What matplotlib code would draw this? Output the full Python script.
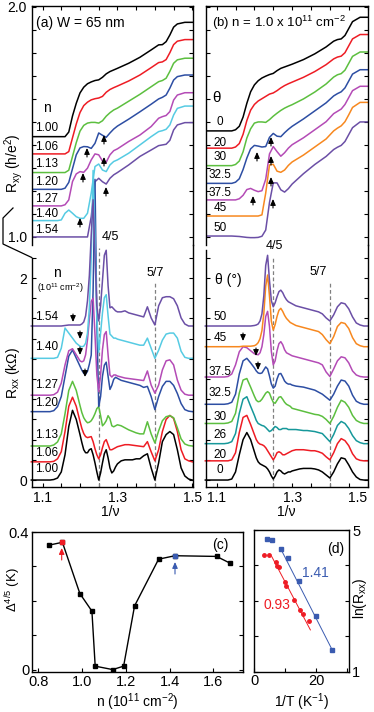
import numpy as np
import matplotlib
matplotlib.use('Agg')
import matplotlib.pyplot as plt

plt.rcParams['font.family'] = ['Liberation Sans', 'DejaVu Sans']
plt.rcParams['mathtext.fontset'] = 'custom'
plt.rcParams['mathtext.rm'] = 'Liberation Sans'
plt.rcParams['mathtext.it'] = 'Liberation Sans:italic'
plt.rcParams['xtick.direction'] = 'in'
plt.rcParams['ytick.direction'] = 'in'
plt.rcParams['axes.linewidth'] = 1.0

# ---------------- data ----------------
# Rxy sample grid (1/nu)
xy_grid = [1.07, 1.10, 1.12, 1.13, 1.14, 1.15, 1.16, 1.17, 1.18, 1.19, 1.20, 1.21, 1.22, 1.23,
           1.24, 1.25, 1.26, 1.27, 1.28, 1.29, 1.30, 1.33, 1.36, 1.39, 1.41, 1.42, 1.43, 1.44,
           1.45, 1.46, 1.48, 1.50]

# panel (a): density series, Rxy (h/e^2) before offset
n_labels = ['1.00', '1.06', '1.13', '1.20', '1.27', '1.40', '1.54']
rxy_a = [
    [1, 1, 1, 1, 1, 1, 1, 1.02, 1.09, 1.145, 1.19, 1.215, 1.23, 1.238, 1.244, 1.247, 1.258, 1.273,
     1.283, 1.29, 1.297, 1.319, 1.345, 1.377, 1.399, 1.40, 1.413, 1.442, 1.476, 1.49, 1.497, 1.497],
    [1, 1, 1, 1, 1, 1, 1, 1.01, 1.07, 1.13, 1.18, 1.21, 1.225, 1.235, 1.24, 1.243, 1.25, 1.268,
     1.28, 1.288, 1.295, 1.317, 1.343, 1.375, 1.397, 1.40, 1.41, 1.44, 1.475, 1.49, 1.497, 1.497],
    [1, 1, 1, 1, 1, 1, 1, 1.01, 1.07, 1.13, 1.18, 1.205, 1.215, 1.218, 1.218, 1.215, 1.225, 1.245,
     1.26, 1.272, 1.28, 1.31, 1.34, 1.373, 1.395, 1.40, 1.41, 1.44, 1.475, 1.49, 1.497, 1.497],
    [1, 1, 1, 1, 1, 1, 1.005, 1.03, 1.09, 1.15, 1.18, 1.186, 1.185, 1.178, 1.2, 1.245, 1.235, 1.226,
     1.245, 1.262, 1.275, 1.305, 1.337, 1.37, 1.393, 1.40, 1.41, 1.44, 1.475, 1.49, 1.497, 1.497],
    [1, 1, 1, 1, 1, 1, 1.005, 1.026, 1.106, 1.139, 1.149, 1.146, 1.164, 1.2, 1.226, 1.222, 1.195, 1.19,
     1.222, 1.24, 1.248, 1.28, 1.308, 1.345, 1.381, 1.388, 1.393, 1.41, 1.46, 1.482, 1.492, 1.492],
    [1, 1, 1, 1, 1, 1.003, 1.032, 1.046, 1.032, 1.017, 1.01, 1.01, 1.032, 1.12, 1.235, 1.246, 1.22, 1.213,
     1.242, 1.257, 1.264, 1.293, 1.329, 1.365, 1.387, 1.391, 1.397, 1.416, 1.459, 1.488, 1.498, 1.498],
    [1, 1, 1, 1, 1, 1, 1, 1, 1, 1, 1, 1, 1.0, 1.088, 1.24, 1.255, 1.24, 1.23,
     1.255, 1.27, 1.28, 1.313, 1.35, 1.378, 1.397, 1.40, 1.403, 1.42, 1.465, 1.487, 1.497, 1.497],
]
rxy_a_offset = [0.436, 0.361, 0.28, 0.207, 0.135, 0.071, 0.0]

# panel (b): tilt angle series
theta_labels = ['0', '20', '30', '32.5', '37.5', '45', '50']
rxy_b = [
    [1, 1, 1, 1, 1, 1.005, 1.02, 1.06, 1.12, 1.17, 1.2, 1.218, 1.23, 1.238, 1.245, 1.25, 1.262, 1.272,
     1.278, 1.284, 1.29, 1.31, 1.335, 1.365, 1.39, 1.397, 1.40, 1.415, 1.445, 1.475, 1.494, 1.494],
    [1, 1, 1, 1, 1, 1.005, 1.02, 1.06, 1.12, 1.165, 1.19, 1.205, 1.215, 1.225, 1.235, 1.24, 1.25, 1.262,
     1.272, 1.28, 1.287, 1.308, 1.333, 1.363, 1.388, 1.396, 1.40, 1.415, 1.445, 1.475, 1.494, 1.494],
    [1, 1, 1, 1, 1, 1.005, 1.02, 1.06, 1.12, 1.16, 1.185, 1.19, 1.19, 1.188, 1.2, 1.215, 1.228, 1.24,
     1.25, 1.258, 1.265, 1.29, 1.32, 1.355, 1.385, 1.395, 1.40, 1.415, 1.445, 1.475, 1.494, 1.494],
    [1, 1, 1, 1, 1, 1.005, 1.02, 1.06, 1.11, 1.15, 1.165, 1.162, 1.158, 1.16, 1.2, 1.217, 1.205, 1.203,
     1.22, 1.235, 1.248, 1.28, 1.315, 1.35, 1.38, 1.39, 1.398, 1.415, 1.445, 1.475, 1.494, 1.494],
    [1, 1, 1, 1, 1, 1, 1.005, 1.02, 1.045, 1.05, 1.042, 1.036, 1.04, 1.09, 1.2, 1.232, 1.21, 1.19,
     1.205, 1.225, 1.24, 1.27, 1.305, 1.34, 1.375, 1.385, 1.395, 1.415, 1.445, 1.475, 1.494, 1.494],
    [1, 1, 1, 1, 1, 1, 1, 1, 1, 1, 1, 1, 1.005, 1.1, 1.222, 1.225, 1.195, 1.19,
     1.2, 1.22, 1.235, 1.265, 1.3, 1.335, 1.37, 1.382, 1.392, 1.41, 1.44, 1.472, 1.494, 1.494],
    [1.004, 1.004, 1.004, 1.004, 1.004, 1.003, 1.002, 1.0, 0.998, 0.997, 0.997, 0.998, 1.003, 1.03, 1.15,
     1.235, 1.235, 1.205, 1.195, 1.21, 1.23, 1.275, 1.315, 1.35, 1.38, 1.39, 1.398, 1.415, 1.445, 1.475,
     1.5, 1.5],
]
rxy_b_offset = [0.461, 0.386, 0.31, 0.233, 0.161, 0.091, 0.0]

# Rxx sample grid (1/nu)
xx_grid = [1.07, 1.08, 1.09, 1.10, 1.11, 1.12, 1.13, 1.14, 1.15, 1.16, 1.17, 1.18, 1.19,
           1.20, 1.205, 1.21, 1.215, 1.22, 1.225, 1.23, 1.235, 1.24, 1.245, 1.25, 1.255, 1.26,
           1.265, 1.27, 1.275, 1.28, 1.285, 1.29, 1.295, 1.30,
           1.31, 1.32, 1.33, 1.34, 1.35, 1.36, 1.37, 1.38, 1.39, 1.40, 1.41, 1.42, 1.43, 1.44,
           1.45, 1.46, 1.47, 1.48, 1.49, 1.50]

# panel (a) Rxx (kOhm) before offset
rxx_a = [
    [0, 0, 0, 0, 0, 0, 0.005, 0.02, 0.08, 0.25, 0.53, 0.69, 0.6,
     0.45, 0.37, 0.3, 0.27, 0.27, 0.3, 0.31, 0.25, 0.17, 0.08, 0.0, 0.07, 0.17, 0.26, 0.3, 0.22, 0.12,
     0.07, 0.09, 0.13, 0.16,
     0.19, 0.2, 0.2, 0.2, 0.21, 0.21, 0.24, 0.26, 0.12, 0.0, 0.17, 0.38, 0.45, 0.48, 0.45, 0.3, 0.12,
     0.04, 0.01, 0],
    [0, 0, 0, 0, 0, 0, 0.005, 0.03, 0.1, 0.3, 0.55, 0.64, 0.55,
     0.4, 0.33, 0.28, 0.25, 0.24, 0.245, 0.25, 0.2, 0.13, 0.07, 0.03, 0.07, 0.14, 0.2, 0.22, 0.17, 0.12,
     0.12, 0.13, 0.14, 0.15,
     0.16, 0.17, 0.17, 0.165, 0.16, 0.155, 0.15, 0.2, 0.1, 0.01, 0.12, 0.3, 0.42, 0.46, 0.43, 0.3, 0.12,
     0.03, 0.01, 0],
    [0, 0, 0, 0, 0, 0, 0.01, 0.04, 0.12, 0.32, 0.55, 0.64, 0.55,
     0.4, 0.33, 0.28, 0.25, 0.23, 0.235, 0.25, 0.28, 0.32, 0.37, 0.39, 0.3, 0.2, 0.22, 0.25, 0.3, 0.27,
     0.2, 0.19, 0.2, 0.21,
     0.2, 0.18, 0.16, 0.145, 0.13, 0.12, 0.12, 0.24, 0.12, 0.03, 0.15, 0.25, 0.29, 0.3, 0.28, 0.18, 0.07,
     0.02, 0.005, 0],
    [0, 0, 0, 0, 0, 0, 0.01, 0.05, 0.15, 0.35, 0.55, 0.61, 0.53,
     0.45, 0.41, 0.38, 0.37, 0.4, 0.47, 0.56, 1.2, 2.3, 0.9, 0.05, 0.15, 0.35, 0.46, 0.49, 0.35, 0.22,
     0.26, 0.32, 0.34, 0.33,
     0.31, 0.3, 0.29, 0.28, 0.27, 0.26, 0.24, 0.25, 0.15, 0.02, 0.15, 0.25, 0.3, 0.3, 0.26, 0.18, 0.08,
     0.02, 0.005, 0],
    [0, 0, 0, 0, 0, 0, 0.005, 0.03, 0.12, 0.3, 0.44, 0.46, 0.4,
     0.34, 0.33, 0.34, 0.4, 0.55, 0.75, 0.93, 0.96, 0.6, 0.2, 0.035, 0.2, 0.45, 0.6, 0.63, 0.4, 0.2,
     0.18, 0.2, 0.2, 0.19,
     0.18, 0.17, 0.165, 0.16, 0.155, 0.15, 0.145, 0.24, 0.1, 0.02, 0.1, 0.25, 0.34, 0.35, 0.3, 0.15, 0.05,
     0.01, 0.0, 0],
    [0, 0, 0, 0, 0, 0, 0, 0.01, 0.1, 0.3, 0.25, 0.2, 0.15,
     0.12, 0.115, 0.12, 0.15, 0.25, 0.5, 1.0, 1.86, 1.2, 0.4, 0.06, 0.25, 0.45, 0.6, 0.63, 0.42, 0.24,
     0.22, 0.2, 0.2, 0.19,
     0.18, 0.17, 0.16, 0.15, 0.14, 0.13, 0.13, 0.2, 0.1, 0.0, 0.08, 0.18, 0.24, 0.25, 0.25, 0.2, 0.07,
     0.01, 0.0, 0],
    [0, 0, 0, 0, 0, 0, 0, 0, 0, 0.005, 0.01, 0.01, 0.01,
     0.01, 0.02, 0.04, 0.1, 0.25, 0.5, 0.9, 1.25, 0.7, 0.2, 0.05, 0.2, 0.45, 0.7, 0.75, 0.4, 0.18,
     0.19, 0.17, 0.15, 0.14,
     0.14, 0.15, 0.13, 0.12, 0.11, 0.1, 0.09, 0.19, 0.08, 0.01, 0.2, 0.28, 0.29, 0.29, 0.27, 0.2, 0.08,
     0.02, 0.0, 0],
]
rxx_a_offset = [0.0, 0.18, 0.337, 0.677, 0.84, 1.205, 1.525]

# panel (b) Rxx (kOhm) before offset
theta_xx_labels = ['0', '20', '26', '30', '32.5', '37.5', '45', '50']
rxx_b = [
    [0, 0, 0, 0, 0, 0, 0, 0.01, 0.08, 0.25, 0.4, 0.47, 0.4,
     0.28, 0.22, 0.18, 0.16, 0.15, 0.14, 0.13, 0.11, 0.08, 0.04, 0.01, 0.04, 0.08, 0.1, 0.09, 0.07, 0.06,
     0.07, 0.08, 0.08, 0.09,
     0.1, 0.11, 0.115, 0.115, 0.115, 0.11, 0.1, 0.08, 0.05, 0.02, 0.08, 0.16, 0.22, 0.21, 0.15, 0.08, 0.03,
     0.005, 0, 0],
    [0, 0, 0, 0, 0, 0, 0, 0.01, 0.08, 0.28, 0.43, 0.45, 0.36,
     0.26, 0.21, 0.18, 0.165, 0.16, 0.15, 0.13, 0.1, 0.07, 0.04, 0.01, 0.04, 0.08, 0.09, 0.08, 0.06, 0.06,
     0.07, 0.08, 0.09, 0.1,
     0.11, 0.11, 0.11, 0.105, 0.1, 0.1, 0.09, 0.075, 0.04, 0.01, 0.08, 0.17, 0.22, 0.2, 0.15, 0.07, 0.02,
     0.005, 0, 0],
    [0, 0, 0, 0, 0, 0, 0.005, 0.02, 0.1, 0.3, 0.44, 0.465, 0.37,
     0.28, 0.23, 0.2, 0.19, 0.18, 0.175, 0.16, 0.14, 0.12, 0.13, 0.15, 0.17, 0.16, 0.14, 0.14, 0.15, 0.15,
     0.15, 0.14, 0.14, 0.14,
     0.14, 0.135, 0.13, 0.13, 0.125, 0.12, 0.11, 0.1, 0.06, 0.02, 0.09, 0.18, 0.22, 0.2, 0.15, 0.08, 0.03,
     0.01, 0, 0],
    [0, 0, 0, 0, 0, 0, 0.005, 0.02, 0.1, 0.3, 0.43, 0.445, 0.36,
     0.27, 0.23, 0.215, 0.22, 0.24, 0.27, 0.3, 0.315, 0.3, 0.25, 0.21, 0.2, 0.23, 0.26, 0.265, 0.24, 0.21,
     0.19, 0.18, 0.17, 0.15,
     0.14, 0.13, 0.12, 0.11, 0.1, 0.09, 0.085, 0.07, 0.04, 0.0, 0.07, 0.16, 0.23, 0.21, 0.16, 0.08, 0.03,
     0.01, 0, 0],
    [0, 0, 0, 0, 0, 0, 0.005, 0.02, 0.1, 0.3, 0.43, 0.455, 0.41,
     0.36, 0.33, 0.31, 0.305, 0.31, 0.34, 0.37, 0.35, 0.28, 0.2, 0.16, 0.18, 0.25, 0.3, 0.305, 0.27, 0.23,
     0.21, 0.2, 0.2, 0.19,
     0.18, 0.175, 0.17, 0.16, 0.15, 0.14, 0.12, 0.1, 0.07, 0.04, 0.1, 0.18, 0.24, 0.23, 0.18, 0.09, 0.03,
     0.01, 0, 0],
    [0, 0, 0, 0, 0, 0, 0.005, 0.03, 0.12, 0.25, 0.3, 0.29, 0.26,
     0.23, 0.225, 0.22, 0.24, 0.3, 0.42, 0.6, 0.65, 0.5, 0.25, 0.12, 0.16, 0.26, 0.33, 0.35, 0.32, 0.27,
     0.24, 0.23, 0.22, 0.21,
     0.2, 0.19, 0.18, 0.17, 0.16, 0.15, 0.14, 0.12, 0.05, 0.005, 0.08, 0.16, 0.2, 0.19, 0.14, 0.06, 0.02,
     0.005, 0, 0],
    [0, 0, 0, 0, 0, 0, 0, 0, 0, 0, 0.005, 0.005, 0.005,
     0.01, 0.02, 0.04, 0.08, 0.16, 0.33, 0.6, 0.71, 0.5, 0.25, 0.165, 0.22, 0.3, 0.36, 0.38, 0.35, 0.31,
     0.28, 0.26, 0.24, 0.23,
     0.21, 0.2, 0.19, 0.18, 0.17, 0.16, 0.15, 0.12, 0.07, 0.03, 0.1, 0.2, 0.24, 0.23, 0.18, 0.09, 0.03,
     0.01, 0, 0],
    [0, 0, 0, 0, 0, 0, 0, 0, 0, 0, 0, 0, 0,
     0.005, 0.01, 0.02, 0.05, 0.12, 0.3, 0.6, 0.7, 0.45, 0.25, 0.19, 0.23, 0.29, 0.34, 0.355, 0.33, 0.29,
     0.26, 0.24, 0.23, 0.22,
     0.2, 0.19, 0.18, 0.17, 0.16, 0.15, 0.14, 0.12, 0.08, 0.05, 0.11, 0.19, 0.23, 0.22, 0.17, 0.09, 0.03,
     0.01, 0, 0],
]
rxx_b_offset = [0.0, 0.19, 0.36, 0.56, 0.75, 1.02, 1.32, 1.525]

# panel (c): gap vs density
n_gap = [0.85, 0.91, 0.99, 1.045, 1.06, 1.14, 1.19, 1.24, 1.35, 1.425, 1.615, 1.675]
gap = [0.362, 0.370, 0.221, 0.170, 0.010, 0.0, 0.010, 0.185, 0.321, 0.331, 0.329, 0.310]

# panel (d): Arrhenius plots
invT_141 = [4.3, 5.7, 8.6, 10.9, 14.3, 19.8, 25.2]
lnR_141 = [4.75, 4.72, 4.46, 4.2, 3.56, 2.58, 1.6]
fit_141_x = [8.4, 25.2]
fit_141_y = [4.5, 1.6]
invT_093 = [3.2, 4.8, 7.0, 7.5, 8.0, 9.8, 10.3, 13.0, 14.8, 15.7, 17.5]
lnR_093 = [4.29, 4.30, 4.10, 3.99, 3.95, 3.52, 3.41, 3.01, 2.75, 2.62, 2.43]
fit_093_x = [5.7, 18.1]
fit_093_y = [4.25, 2.18]

colors_a = ['black', '#ee1c24', '#5cbf3f', '#2d4ea3', '#b44bb6', '#56cbe3', '#6b4fa6']
colors_b_xy = ['black', '#ee1c24', '#5cbf3f', '#2d4ea3', '#b44bb6', '#f7881f', '#6b4fa6']
colors_b_xx = ['black', '#ee1c24', '#16989a', '#5cbf3f', '#2d4ea3', '#b44bb6', '#f7881f', '#6b4fa6']

# ---------------- figure ----------------
W, H = 374, 712
fig = plt.figure(figsize=(W / 100, H / 100), dpi=100)


def box(l, t, r, b):
    return fig.add_axes([l / W, 1 - b / H, (r - l) / W, (b - t) / H])


def fx(px):
    return px / W


def fy(py):
    return 1 - py / H


def ftext(px, py, s, size=8, **kw):
    fig.text(fx(px), fy(py), s, fontsize=size, ha=kw.pop('ha', 'center'),
             va=kw.pop('va', 'center'), **kw)


def farrow(x, y0, y1, color='black'):
    # small arrow from y0 to y1 (figure pixels, from top)
    fig.add_artist(matplotlib.patches.FancyArrowPatch(
        (fx(x), fy(y0)), (fx(x), fy(y1)), transform=fig.transFigure,
        arrowstyle='-|>,head_length=0.45,head_width=0.2', mutation_scale=8,
        shrinkA=0, shrinkB=0, lw=0.8, color=color))


xticks = [1.1, 1.15, 1.2, 1.25, 1.3, 1.35, 1.4, 1.45, 1.5]
xticklabels = ['1.1', '', '', '', '1.3', '', '', '', '1.5']
xlim = (1.071, 1.501)

for col, (left, right) in enumerate([(31.7, 192.7), (205.7, 368.0)]):
    top = box(left, 6, right, 245)
    bot = box(left, 245, right, 487)
    for ax in (top, bot):
        ax.set_facecolor('none')
        ax.set_xlim(*xlim)
    top.set_ylim(0.965, 2.004)
    bot.set_ylim(-0.069, 2.327)
    top.spines['bottom'].set_visible(False)
    bot.spines['top'].set_visible(False)
    bot.spines['left'].set_bounds(-0.069, 2.2 if col == 0 else 2.28)
    top.set_xticks(xticks)
    top.tick_params(axis='x', top=True, bottom=False, labelbottom=False, length=3)
    top.set_yticks(np.arange(1.0, 2.01, 0.1))
    top.tick_params(axis='y', left=True, right=True, length=3, labelsize=10)
    bot.set_xticks(xticks)
    bot.set_xticklabels(xticklabels)
    bot.tick_params(axis='x', length=3, labelsize=10, pad=3)
    bot.set_yticks(np.arange(0, 2.21, 0.2))
    bot.tick_params(axis='y', left=True, right=True, length=3, labelsize=10)
    if col == 0:
        top.set_yticklabels(['1.0'] + [''] * 9 + ['2.0'])
        bot.set_yticklabels(['0'] + [''] * 9 + ['2', ''])
    else:
        top.set_yticklabels([])
        bot.set_yticklabels([])
        bot.get_xticklabels()[-1].set_horizontalalignment('right')

    if col == 0:
        for ys, off, c in zip(rxy_a, rxy_a_offset, colors_a):
            top.plot(xy_grid, np.array(ys) + off, color=c, lw=1.1)
        bot.plot([1.25, 1.25], [-0.07, 2.3], color='gray', lw=0.9, ls=(0, (3, 2)), clip_on=False)
        bot.plot([1.4, 1.4], [-0.07, 1.97], color='gray', lw=0.9, ls=(0, (3, 2)))
        for ys, off, c in zip(rxx_a, rxx_a_offset, colors_a):
            bot.plot(xx_grid, np.array(ys) + off, color=c, lw=1.1, clip_on=False)
    else:
        for ys, off, c in zip(rxy_b, rxy_b_offset, colors_b_xy):
            top.plot(xy_grid, np.array(ys) + off, color=c, lw=1.1)
        bot.plot([1.25, 1.25], [-0.07, 2.22], color='gray', lw=0.9, ls=(0, (3, 2)))
        bot.plot([1.4, 1.4], [-0.07, 1.95], color='gray', lw=0.9, ls=(0, (3, 2)))
        for ys, off, c in zip(rxx_b, rxx_b_offset, colors_b_xx):
            bot.plot(xx_grid, np.array(ys) + off, color=c, lw=1.1, clip_on=False)

# axis break mark on panel (a)
fig.add_artist(matplotlib.lines.Line2D([fx(13), fx(3), fx(3), fx(31.7)],
                                       [fy(208), fy(218), fy(244), fy(257.5)],
                                       transform=fig.transFigure, color='black', lw=0.9))

# labels (a)
ftext(36, 23, '(a) W = 65 nm', size=10, ha='left')
ftext(14, 163, r'R$_{\mathrm{xy}}$ (h/e$^2$)', size=10, rotation=90)
ftext(13, 373, r'R$_{\mathrm{xx}}$ (k$\Omega$)', size=10, rotation=90)
ftext(47, 108, 'n', size=10)
for lab, py in zip(n_labels, [128, 147, 164, 182, 199, 214, 230]):
    ftext(47, py, lab, size=8.5)
ftext(57, 273, 'n', size=10)
ftext(60, 288, r'(10$^{11}$ cm$^{-2}$)', size=6.5)
for lab, py in zip(n_labels, [469, 453, 435, 403, 385, 347, 317]):
    ftext(47, py, lab, size=8.5)
ftext(110, 237, '4/5', size=9)
ftext(155, 273, '5/7', size=9)
ftext(110, 512, '1/ν', size=10)

# labels (b)
ftext(212, 23, r'(b) n = 1.0 x 10$^{11}$ cm$^{-2}$', size=9.5, ha='left')
ftext(216, 98, 'θ', size=11)
for lab, py in zip(theta_labels, [122, 143, 157, 175, 193, 208, 228]):
    ftext(220, py, lab, size=8.5)
ftext(228, 280, 'θ (°)', size=10)
for lab, py in zip(theta_xx_labels, [470, 455, 435, 417, 393, 372, 338, 317]):
    ftext(220, py, lab, size=8.5)
ftext(274, 246, '4/5', size=9)
ftext(318, 272, '5/7', size=9)
ftext(286, 512, '1/ν', size=10)

# arrows (a) Rxy
for x, y in [(87, 148), (104, 135), (83, 173), (104, 157), (106, 187), (80, 218)]:
    farrow(x, y + 9, y)
# arrows (b) Rxy
for x, y in [(257, 152), (271, 137), (271, 156), (271, 177), (253, 196), (273, 199)]:
    farrow(x, y + 9, y)
# arrows Rxx (down)
for x, y in [(73, 322), (80, 339), (80, 355), (85, 377), (243, 341), (256, 356), (258, 370)]:
    farrow(x, y - 8, y)

# ---------------- panel (c) ----------------
axc = box(32, 532, 243, 672)
axc.plot(n_gap, gap, color='black', lw=1.0, marker='s', ms=3.5, mfc='black', mec='black')
axc.plot(n_gap[1], gap[1], 's', ms=3.5, color='#ee1c24')
axc.plot(n_gap[9], gap[9], 's', ms=3.5, color='#3a5bb0')
axc.set_xlim(0.771, 1.736)
axc.set_ylim(-0.007, 0.40)
axc.set_xticks([0.8, 1.0, 1.2, 1.4, 1.6])
axc.set_xticklabels(['0.8', '1.0', '1.2', '1.4', '1.6'])
axc.set_yticks([0, 0.1, 0.2, 0.3, 0.4])
axc.set_yticklabels(['0', '', '', '', '0.4'])
axc.tick_params(labelsize=10.5, length=3, right=True, top=False, pad=2)
axc.set_xlabel(r'n (10$^{11}$ cm$^{-2}$)', fontsize=10, labelpad=2)
ftext(13, 590, r'$\Delta^{4/5}$ (K)', size=9.5, rotation=90)
ftext(220, 545, '(c)', size=10)
farrow(61.7, 560, 548, color='#ee1c24')
farrow(175, 574, 562, color='#3a5bb0')

# ---------------- panel (d) ----------------
axd = box(254, 530, 349.3, 671.7)
axd.plot(fit_141_x, fit_141_y, color='#3a5bb0', lw=0.7)
axd.plot(fit_093_x, fit_093_y, color='#ee1c24', lw=0.7)
axd.plot(invT_141, lnR_141, 's', ms=2.5, color='#3a5bb0')
axd.plot(invT_093, lnR_093, 'o', ms=2.5, color='#ee1c24')
axd.set_xlim(0, 30.6)
axd.set_ylim(1, 5)
axd.set_xticks([0, 10, 20, 30])
axd.set_xticklabels(['0', '', '20', ''])
axd.set_yticks([1, 2, 3, 4, 5])
axd.set_yticklabels(['1', '', '', '', '5'])
axd.yaxis.tick_right()
axd.tick_params(labelsize=10.5, length=3, left=True, right=True, pad=2)
axd.set_xlabel(r'1/T (K$^{-1}$)', fontsize=10, labelpad=2)
ftext(360, 598, r'ln(R$_{\mathrm{xx}}$)', size=10, rotation=90)
ftext(336, 549, '(d)', size=10)
ftext(315, 573, '1.41', size=10, color='#3a5bb0')
ftext(277, 605, '0.93', size=10, color='#ee1c24')

fig.savefig('out.png', dpi=100)
